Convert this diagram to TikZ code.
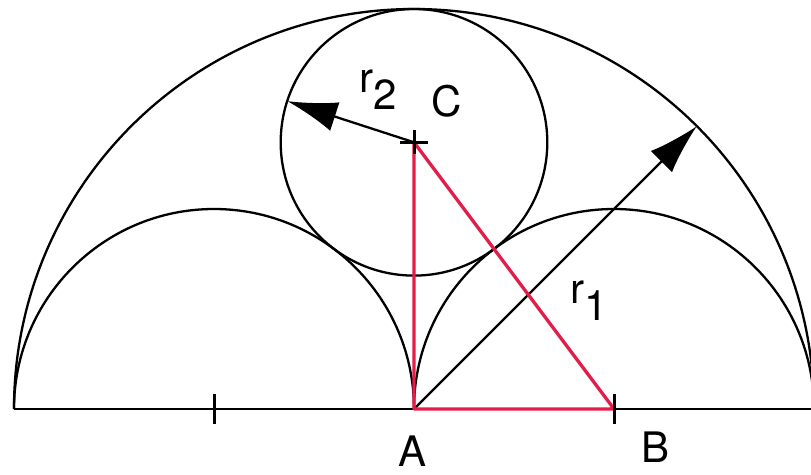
\documentclass[tikz,border=0pt]{standalone}
\usepackage{fontspec}
\setmainfont{TeX Gyre Heros}
\usetikzlibrary{arrows.meta,calc}
\definecolor{redline}{RGB}{228,28,72}
\begin{document}
\begin{tikzpicture}[x=1pt,y=-1pt,
  blk/.style={line width=2.3pt,black},
  red/.style={line width=3.3pt,redline,line join=round},
  arr/.style={blk,-{Latex[length=50pt,width=30pt]}},
  tick/.style={line width=3pt,black},
  lbl/.style={font=\fontsize{42}{50}\selectfont,inner sep=0pt}]
\useasboundingbox (0,0) rectangle (811,474);
\coordinate (A) at (414,409);
\coordinate (B) at (614,409);
\coordinate (L) at (214,409);
\coordinate (C) at (414,142.3);
\coordinate (Lend) at (14,409);
\coordinate (Rend) at (814,409);
\coordinate (T1) at ($(A)+(-45:400)$);
\coordinate (T2) at ($(C)+(-162:133.3)$);
\begin{scope}
\clip (0,0) rectangle (811,474);
% baseline
\draw[blk] (Lend) -- (Rend);
% big semicircle
\draw[blk] (Lend) arc[start angle=180,end angle=360,radius=400];
% small semicircles
\draw[blk] (Lend) arc[start angle=180,end angle=360,radius=200];
\draw[blk] (A) arc[start angle=180,end angle=360,radius=200];
% circle C
\draw[blk] (C) circle[radius=133.3];
\end{scope}
% radius arrows
\draw[arr] (A) -- (T1);
\draw[arr] (C) -- (T2);
% red triangle
\draw[red] (A) -- (C) -- (B) -- cycle;
% ticks
\draw[tick] ($(L)+(0,-15)$) -- ($(L)+(0,15)$);
\draw[tick] ($(B)+(0,-15)$) -- ($(B)+(0,15)$);
\draw[tick] ($(C)+(-14,0)$) -- ($(C)+(14,0)$);
\draw[tick] ($(C)+(0,-12)$) -- ($(C)+(0,12)$);
% labels
\node[lbl] (lA) at (413,451) {A};
\node[lbl] (lB) at (655,447) {B};
\node[lbl] (lC) at (447,101) {C};
\node[lbl,anchor=base west] (lr2) at (359,92) {r\raisebox{-0.42em}{2}};
\node[lbl,anchor=base west] (lr1) at (570,303) {r\raisebox{-0.42em}{1}};
\end{tikzpicture}
\end{document}
